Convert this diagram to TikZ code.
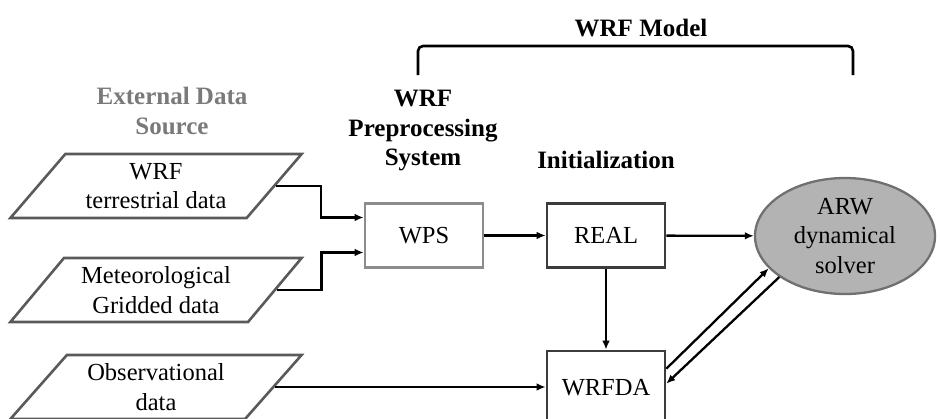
\documentclass[tikz,border=0pt]{standalone}
\usepackage{fontspec}
\setmainfont{Liberation Serif}
\usetikzlibrary{shapes.geometric,arrows.meta,calc}
\definecolor{paraline}{HTML}{5A5A5A}
\definecolor{wpsline}{HTML}{8C8C8C}
\definecolor{boxline}{HTML}{3C3C3C}
\definecolor{ellfill}{HTML}{B3B3B3}
\definecolor{ellline}{HTML}{707070}
\definecolor{srcgray}{HTML}{7A7A7A}
\begin{document}
\begin{tikzpicture}[x=1pt,y=-1pt,
  txt/.style={font=\fontsize{24.5}{29.5}\selectfont, align=center, inner sep=0pt},
  btxt/.style={txt, font=\fontsize{25}{29.5}\selectfont\bfseries},
  para/.style={txt, draw=paraline, line width=2.6pt, trapezium, trapezium left angle=47, trapezium right angle=133,
     trapezium stretches=true, minimum width=292pt, minimum height=64pt},
  boxnode/.style={txt, draw=boxline, line width=2.6pt, minimum width=118pt, minimum height=64pt},
  arr/.style={line width=2.3pt, -{Latex[length=9pt,width=7.5pt]}}]
\useasboundingbox (0,0) rectangle (942,418);
\clip (0,0) rectangle (942,418);
% labels
\node[btxt] (model) at (641,28) {WRF Model};
\node[btxt, text=srcgray] (src) at (172,111) {External Data\\Source};
\node[btxt] (wpslbl) at (423,131) {WRF\\Preprocessing\\System};
\node[btxt] (initlbl) at (606,160) {Initialization};
% bracket
\coordinate (bl) at (418,75);
\coordinate (br) at (853,75);
\draw[line width=2.6pt, rounded corners=5pt] (bl) -- (418,46) -- (853,46) -- (br);
% input data
\node[para] (terr) at (156,186) {WRF\\terrestrial data};
\node[para] (met) at (156,290) {Meteorological\\Gridded data};
\node[para] (obs) at (156,387) {Observational\\data};
% process boxes
\node[boxnode, draw=wpsline] (wps) at (424,235.5) {WPS};
\node[boxnode] (real) at (606,235.5) {REAL};
\node[boxnode, minimum height=74pt] (wrfda) at (606,388) {WRFDA};
\node[txt, ellipse, draw=ellline, fill=ellfill, line width=2.3pt, minimum width=180pt, minimum height=116pt] (arw) at (845,236) {ARW\\dynamical\\solver};
% connectors
\draw[arr] (terr.east) -- ++(45,0) |- ($(wps.west)+(0,-18)$);
\draw[arr] (met.east) -- ++(45,0) |- ($(wps.west)+(0,17)$);
\draw[arr] (wps) -- (real);
\draw[arr] (real) -- (arw);
\draw[arr] (real) -- (wrfda);
\draw[arr] (obs.east) -- (obs.east -| wrfda.west);
\draw[arr] ($(wrfda.north east)+(0,19)$) -- (arw.203.7);
\draw[arr] (arw.212) -- ($(wrfda.north east)+(0,34)$);
\end{tikzpicture}
\end{document}
